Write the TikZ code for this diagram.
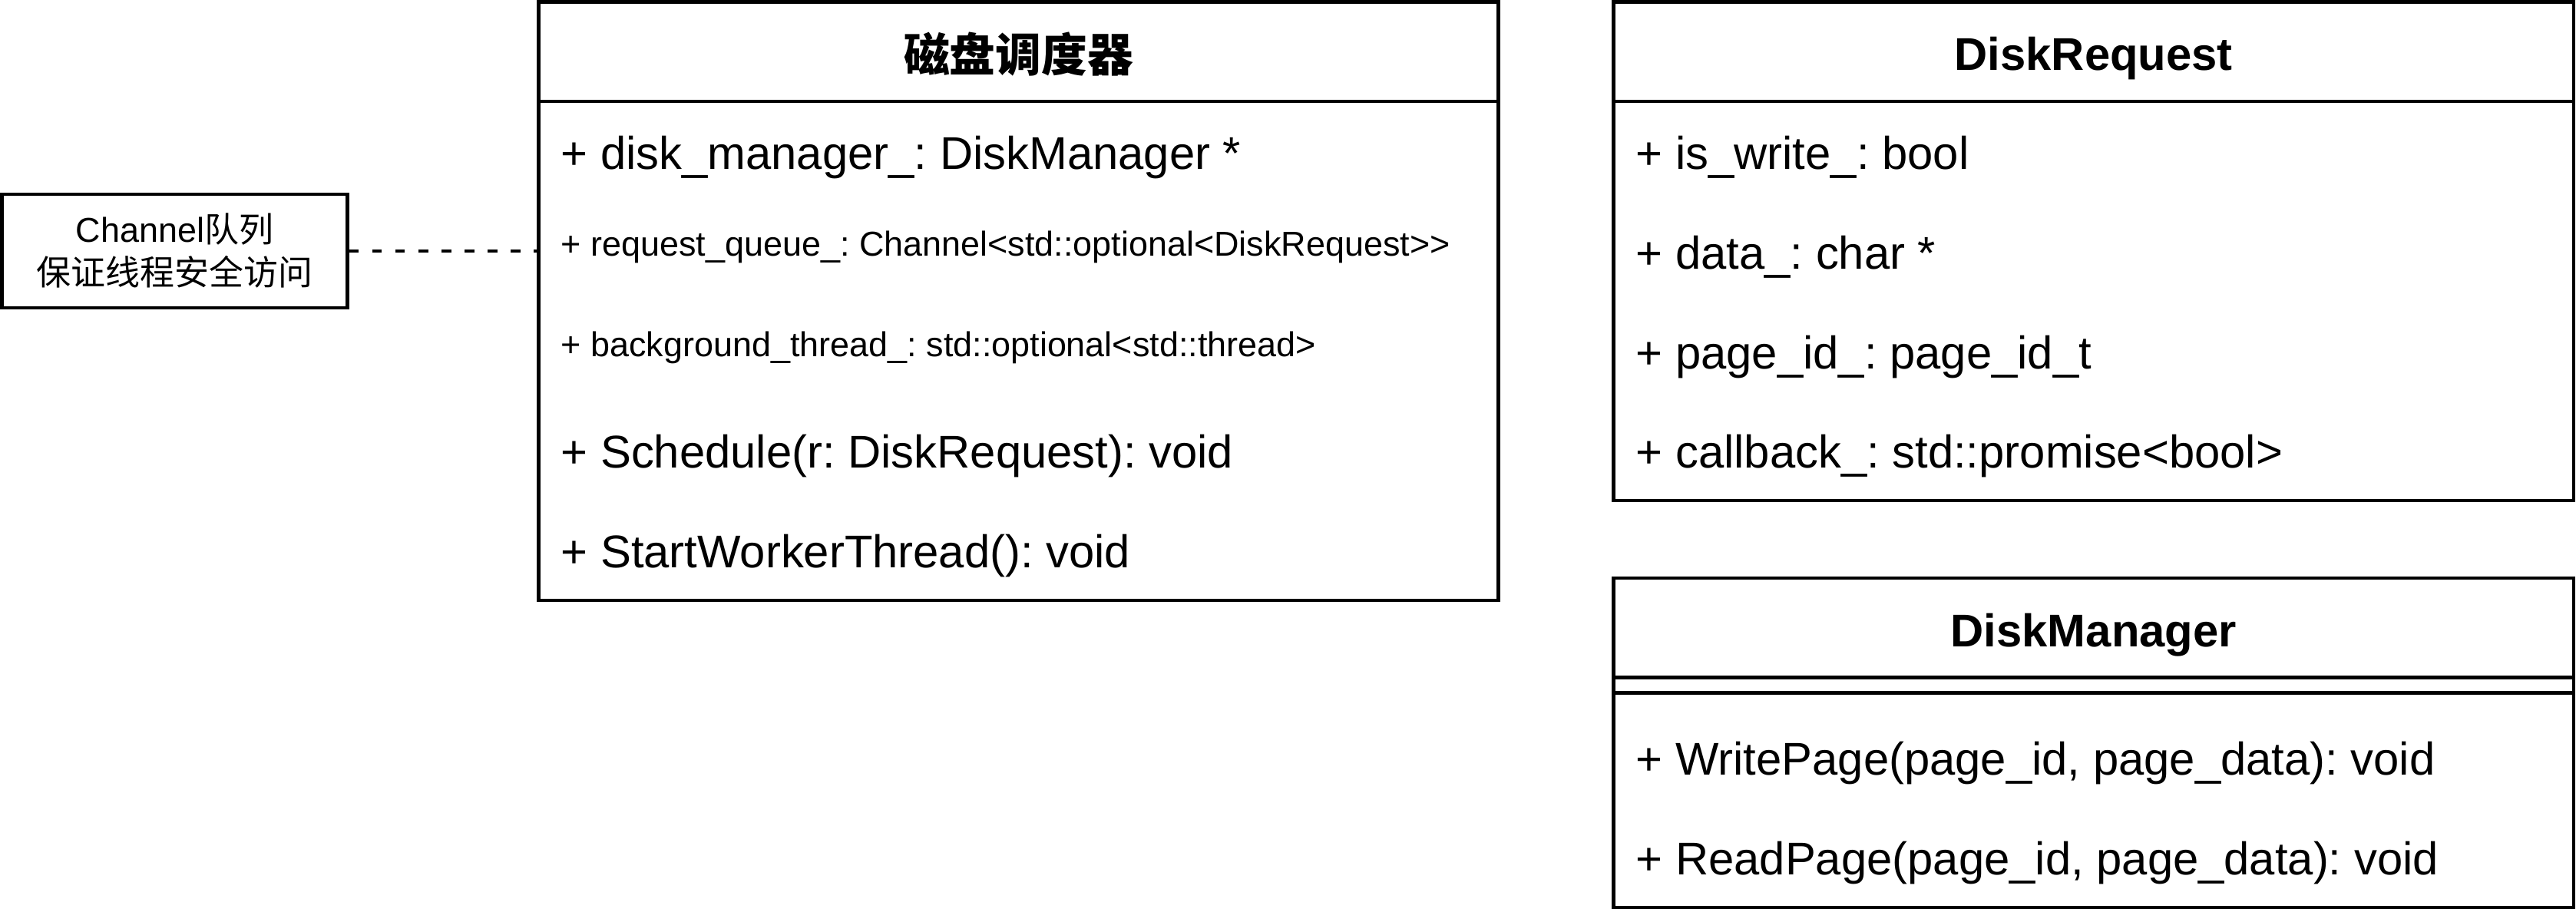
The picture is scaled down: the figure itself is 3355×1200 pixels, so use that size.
\documentclass[tikz,border=0pt]{standalone}
\usepackage{fontspec}
\setmainfont{Liberation Sans}
\newfontfamily\cjk{Noto Sans CJK SC}
\frenchspacing
\begin{document}
\begin{tikzpicture}[x=0.01cm, y=-0.01cm,
  box/.style={draw, line width=1.28pt, inner sep=0pt, fill=white},
  sepline/.style={line width=1.28pt},
  big/.style={font=\fontsize{17}{20}\selectfont, inner sep=0pt, anchor=base west},
  small/.style={font=\fontsize{12.78}{15}\selectfont, inner sep=0pt, anchor=base west},
  smallc/.style={font=\fontsize{12.78}{15}\selectfont, inner sep=0pt, anchor=base},
  titletext/.style={font=\fontsize{17}{20}\selectfont\bfseries, inner sep=0pt, anchor=base}]

\useasboundingbox (0,0) rectangle (3355,1200);

% boxes
\node[box, minimum width=12.49cm, minimum height=7.795cm] (sched) at (1326.5,392.25) {};
\node[box, minimum width=12.495cm, minimum height=6.495cm] (req) at (2726.75,327.25) {};
\node[box, minimum width=12.495cm, minimum height=4.29cm] (mgr) at (2726.75,967.5) {};
\node[box, minimum width=4.5cm, minimum height=1.48cm] (chan) at (227.5,327) {};

% compartment separators
\draw[sepline] (702,132) -- (1951,132);
\draw[sepline] (2102,132) -- (3351.5,132);
\draw[sepline] (2102,882.5) -- (3351.5,882.5);
\draw[sepline] (2102,902.5) -- (3351.5,902.5);

% connector
\draw[line width=1.28pt, dash pattern=on 3.56pt off 4.98pt] (chan.east) -- (chan.east -| sched.west);

% scheduler
\node[titletext] (schedT) at (1326.5,93) {\cjk\bfseries 磁盘调度器};
\node[big] (s1) at (730,220) {+ disk\_manager\_: DiskManager *};
\node[small] (s2) at (730,333) {+ request\_queue\_: Channel<std::optional<DiskRequest>{}>};
\node[small] (s3) at (730,464) {+ background\_thread\_: std::optional<std::thread>};
\node[big] (s4) at (730,609) {+ Schedule(r: DiskRequest): void};
\node[big] (s5) at (730,739) {+ StartWorkerThread(): void};

% DiskRequest
\node[titletext] (reqT) at (2726.75,91) {DiskRequest};
\node[big] (r1) at (2130,220) {+ is\_write\_: bool};
\node[big] (r2) at (2130,350) {+ data\_: char *};
\node[big] (r3) at (2130,480) {+ page\_id\_: page\_id\_t};
\node[big] (r4) at (2130,609) {+ callback\_: std::promise<bool>};

% DiskManager
\node[titletext] (mgrT) at (2726.75,842) {DiskManager};
\node[big] (m1) at (2130,1009) {+ WritePage(page\_id, page\_data): void};
\node[big] (m2) at (2130,1139) {+ ReadPage(page\_id, page\_data): void};

% channel note
\node[smallc] (c1) at (227.5,315) {Channel{\cjk 队列}};
\node[smallc] (c2) at (227.5,371) {\cjk 保证线程安全访问};
\end{tikzpicture}
\end{document}
